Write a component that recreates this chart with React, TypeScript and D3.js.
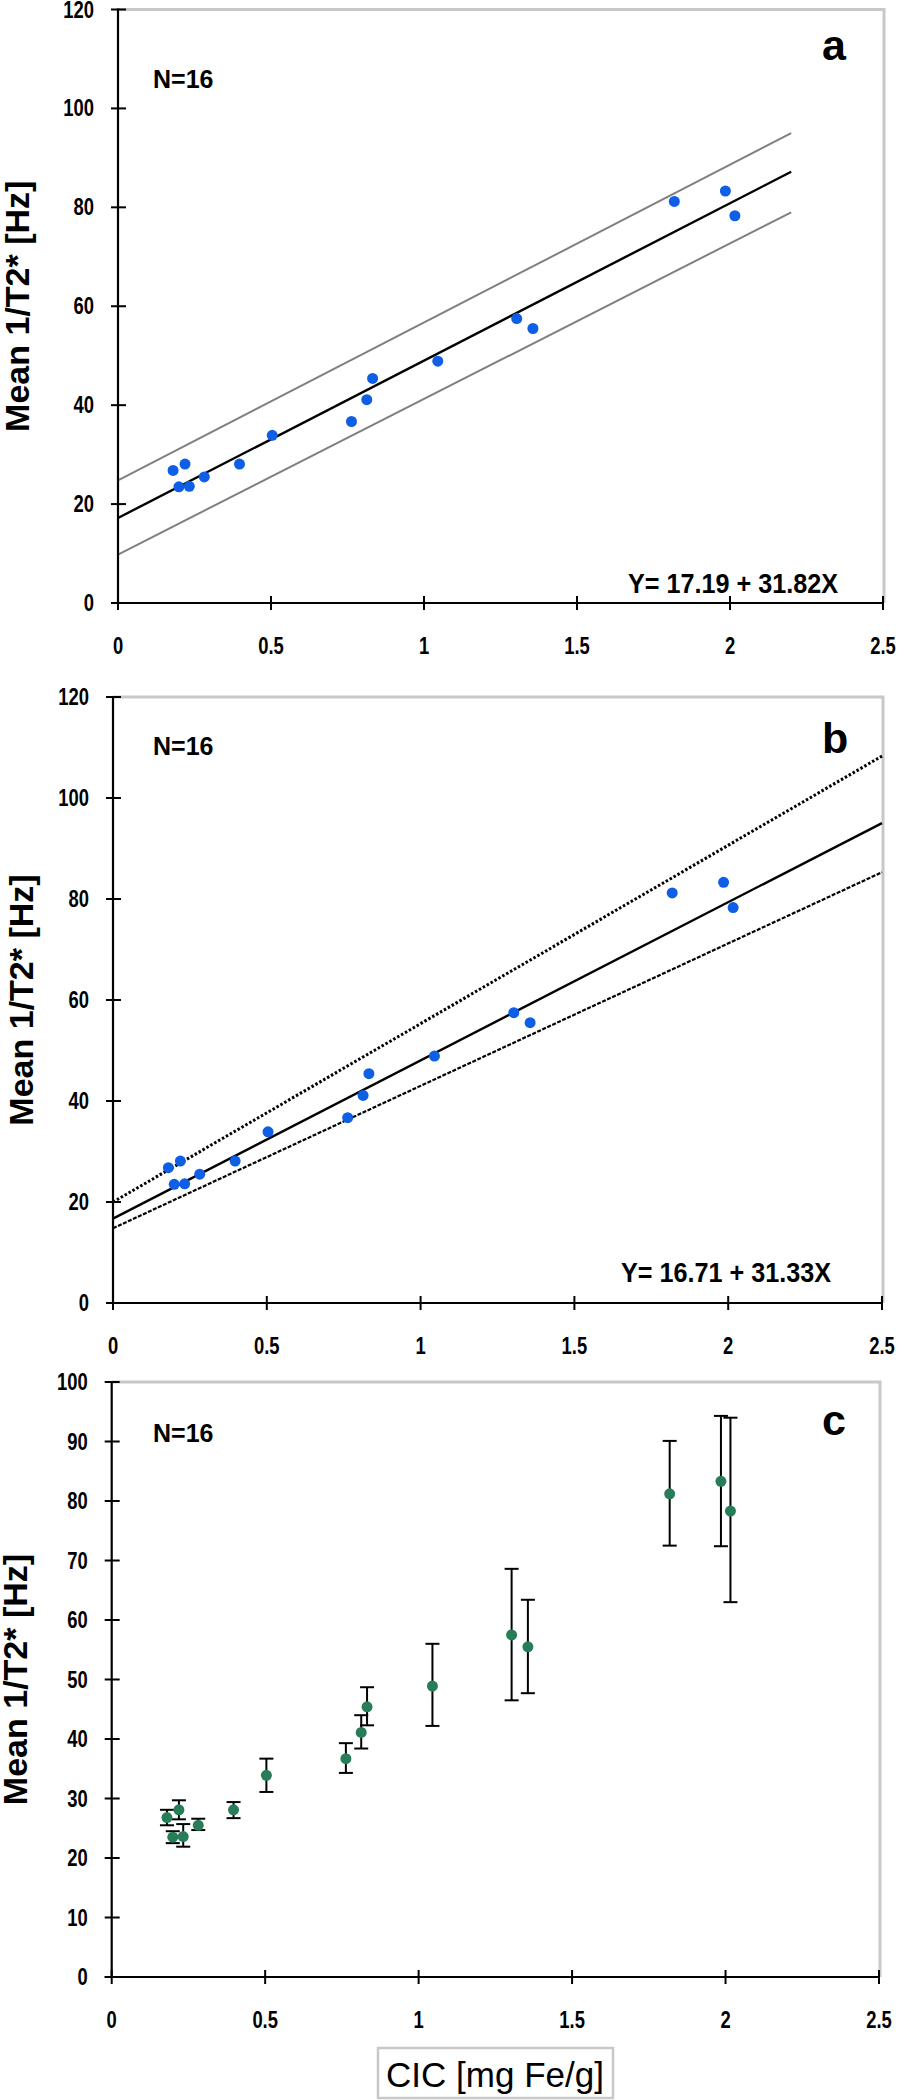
import React from "react";
import * as d3 from "d3";

// ---- data ----
const cic = [0.18, 0.199, 0.219, 0.233, 0.282, 0.397, 0.504, 0.763, 0.813, 0.832, 1.045, 1.303, 1.356, 1.818, 1.985, 2.016];
const meanR2 = [26.8, 23.5, 28.1, 23.6, 25.5, 28.1, 33.9, 36.7, 41.1, 45.4, 48.9, 57.5, 55.5, 81.2, 83.3, 78.3];
const errHigh = [28.1, 24.5, 29.7, 25.7, 26.6, 29.4, 36.7, 39.3, 44.0, 48.7, 56.0, 68.6, 63.4, 90.1, 94.3, 94.0];
const errLow = [25.5, 22.5, 26.5, 21.9, 24.7, 26.7, 31.1, 34.3, 38.4, 42.3, 42.2, 46.5, 47.7, 72.5, 72.4, 63.0];

// fit lines: x at start/end and the y values there
const fitAX = [0, 2.2];
const fitAMid = [17.19, 17.19 + 31.82 * 2.2];
const fitAUpper = [24.8, 95.0];
const fitALower = [9.8, 79.0];

const fitBX = [0, 2.5];
const fitBMid = [16.71, 16.71 + 31.33 * 2.5];
const fitBUpper = [20.0, 108.3];
const fitBLower = [14.8, 85.3];

const xTicks = [0, 0.5, 1, 1.5, 2, 2.5];
const xTickLabels = ["0", "0.5", "1", "1.5", "2", "2.5"];
const yTicksAB = [0, 20, 40, 60, 80, 100, 120];
const yTicksC = [0, 10, 20, 30, 40, 50, 60, 70, 80, 90, 100];

const yTitle = "Mean 1/T2* [Hz]";
const xTitle = "CIC [mg Fe/g]";
const nLabel = "N=16";
const eqA = "Y= 17.19 + 31.82X";
const eqB = "Y= 16.71 + 31.33X";

const FONT = "'Liberation Sans', Arial, sans-serif";
const BLUE = "#0e5ee6";
const GREEN = "#267d57";

function Narrow({ x, y, anchor, size, children }: { x: number; y: number; anchor: string; size: number; children: React.ReactNode }) {
  return (
    <g transform={`translate(${x},${y}) scale(0.8,1)`}>
      <text x={0} y={0} textAnchor={anchor} fontFamily={FONT} fontWeight="bold" fontSize={size}>{children}</text>
    </g>
  );
}

type PanelProps = {
  x0: number; x1: number; yT: number; yB: number; yMax: number; yTicks: number[];
  letter: string; letterY: number; nY: number; titleX: number;
  render: (x: d3.ScaleLinear<number, number>, y: d3.ScaleLinear<number, number>) => React.ReactNode;
};

function Panel({ x0, x1, yT, yB, yMax, yTicks, letter, letterY, nY, titleX, render }: PanelProps) {
  const x = d3.scaleLinear().domain([0, 2.5]).range([x0, x1]);
  const y = d3.scaleLinear().domain([0, yMax]).range([yB, yT]);
  const cy = (yT + yB) / 2;
  return (
    <g>
      <path d={`M${x0},${yT}H${x1 + 1}V${yB}`} fill="none" stroke="#c8c8c8" strokeWidth={3} />
      {render(x, y)}
      <line x1={x0} x2={x0} y1={yT - 1} y2={yB} stroke="#000" strokeWidth={2.2} />
      <line x1={x0 - 7} x2={x1 + 1} y1={yB} y2={yB} stroke="#000" strokeWidth={2.2} />
      {yTicks.map((t) => (
        <g key={"y" + t}>
          <line x1={x0 - 7} x2={x0 + 8} y1={y(t)} y2={y(t)} stroke="#000" strokeWidth={2} />
          <Narrow x={x0 - 24} y={y(t) + 8} anchor="end" size={23}>{t}</Narrow>
        </g>
      ))}
      {xTicks.map((t, i) => (
        <g key={"x" + t}>
          <line x1={x(t)} x2={x(t)} y1={yB - 7} y2={yB + 7} stroke="#000" strokeWidth={2} />
          <Narrow x={x(t)} y={yB + 51} anchor="middle" size={23}>{xTickLabels[i]}</Narrow>
        </g>
      ))}
      <text x={153} y={nY} fontFamily={FONT} fontWeight="bold" fontSize={25}>{nLabel}</text>
      <text x={822} y={letterY} fontFamily={FONT} fontWeight="bold" fontSize={43}>{letter}</text>
      <text transform={`translate(${titleX},${cy}) rotate(-90)`} textAnchor="middle" fontFamily={FONT} fontWeight="bold" fontSize={34}>{yTitle}</text>
    </g>
  );
}

function dots(x: any, y: any, color: string) {
  return cic.map((c, i) => <circle key={"d" + i} cx={x(c)} cy={y(meanR2[i])} r={5.5} fill={color} />);
}

function fitLine(x: any, y: any, xs: number[], ys: number[], props: any, key: string) {
  const line = d3.line<number>().x((_, i) => x(xs[i])).y((v) => y(v));
  return <path key={key} d={line(ys) || ""} fill="none" {...props} />;
}

export default function App() {
  return (
    <svg width={904} height={2100} style={{ position: "absolute", left: 0, top: 0, background: "#fff" }}>
      <rect width={904} height={2100} fill="#fff" />
      <Panel x0={118} x1={883} yT={9.5} yB={603} yMax={120} yTicks={yTicksAB} letter="a" letterY={60} nY={88} titleX={29}
        render={(x, y) => (
          <g>
            {fitLine(x, y, fitAX, fitAUpper, { stroke: "#808080", strokeWidth: 2 }, "u")}
            {fitLine(x, y, fitAX, fitALower, { stroke: "#808080", strokeWidth: 2 }, "l")}
            {fitLine(x, y, fitAX, fitAMid, { stroke: "#000", strokeWidth: 2.4 }, "m")}
            {dots(x, y, BLUE)}
            <text x={838} y={593} textAnchor="end" fontFamily={FONT} fontWeight="bold" fontSize={27} textLength={210} lengthAdjust="spacingAndGlyphs">{eqA}</text>
          </g>
        )} />
      <Panel x0={113} x1={882} yT={697} yB={1303} yMax={120} yTicks={yTicksAB} letter="b" letterY={753} nY={755} titleX={33}
        render={(x, y) => (
          <g>
            {fitLine(x, y, fitBX, fitBUpper, { stroke: "#000", strokeWidth: 3, strokeDasharray: "2.5,2" }, "u")}
            {fitLine(x, y, fitBX, fitBLower, { stroke: "#000", strokeWidth: 2.2, strokeDasharray: "4,1.5" }, "l")}
            {fitLine(x, y, fitBX, fitBMid, { stroke: "#000", strokeWidth: 2.4 }, "m")}
            {dots(x, y, BLUE)}
            <text x={831} y={1282} textAnchor="end" fontFamily={FONT} fontWeight="bold" fontSize={27} textLength={210} lengthAdjust="spacingAndGlyphs">{eqB}</text>
          </g>
        )} />
      <Panel x0={111.7} x1={879} yT={1382} yB={1977} yMax={100} yTicks={yTicksC} letter="c" letterY={1435} nY={1442} titleX={27}
        render={(x, y) => (
          <g>
            {cic.map((c, i) => (
              <g key={"e" + i}>
                <line x1={x(c)} x2={x(c)} y1={y(errHigh[i])} y2={y(errLow[i])} stroke="#000" strokeWidth={2} />
                <line x1={x(c) - 7} x2={x(c) + 7} y1={y(errHigh[i])} y2={y(errHigh[i])} stroke="#000" strokeWidth={2} />
                <line x1={x(c) - 7} x2={x(c) + 7} y1={y(errLow[i])} y2={y(errLow[i])} stroke="#000" strokeWidth={2} />
              </g>
            ))}
            {dots(x, y, GREEN)}
          </g>
        )} />
      <rect x={378} y={2048} width={235} height={50} fill="#fff" stroke="#c8c8c8" strokeWidth={2.5} />
      <text x={495} y={2087} textAnchor="middle" fontFamily={FONT} fontSize={35}>{xTitle}</text>
    </svg>
  );
}
